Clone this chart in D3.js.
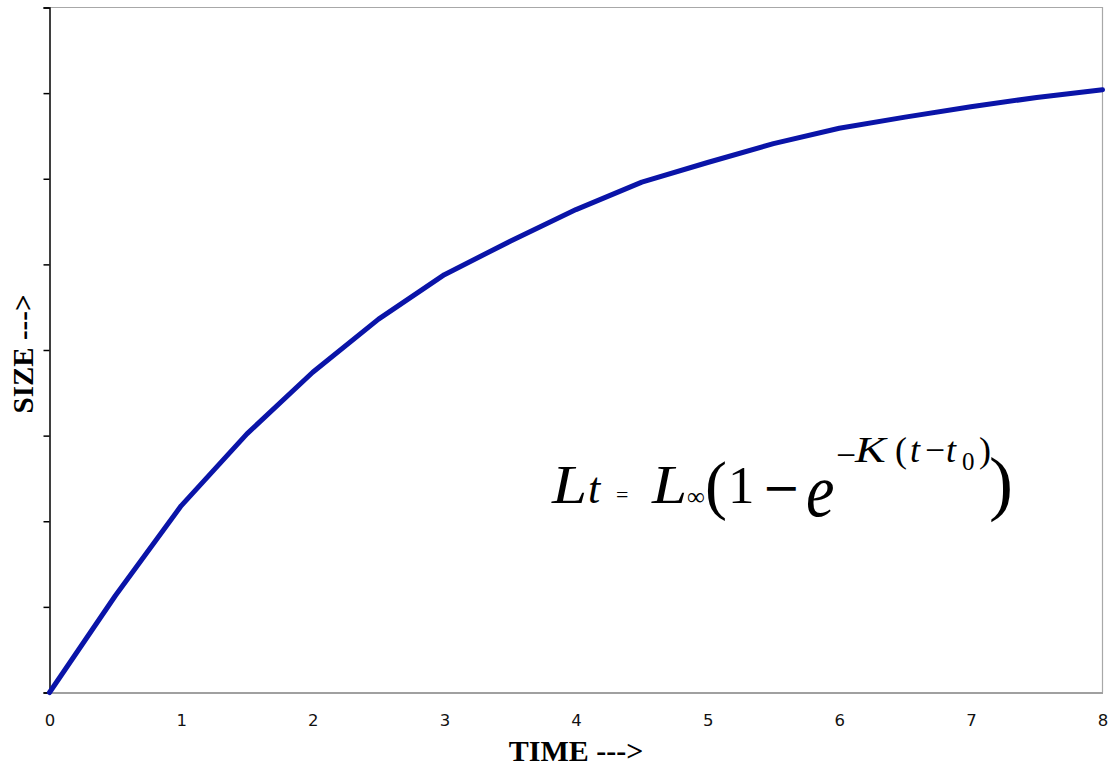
<!DOCTYPE html>
<html>
<head>
<meta charset="utf-8">
<script src="https://cdn.jsdelivr.net/npm/d3@7"></script>
<style>
  html, body { margin: 0; padding: 0; background: #fff; }
  svg { display: block; }
</style>
</head>
<body>
<svg id="chart" width="1116" height="769"></svg>
<script>
// ---- data ----
const times = [0, 0.5, 1, 1.5, 2, 2.5, 3, 3.5, 4, 4.5, 5, 5.5, 6, 6.5, 7, 7.5, 8];
const sizes = [0, 1.13, 2.18, 3.02, 3.74, 4.36, 4.88, 5.27, 5.64, 5.96, 6.19, 6.41, 6.59, 6.72, 6.84, 6.95, 7.04];
const xTickLabels = [0, 1, 2, 3, 4, 5, 6, 7, 8];
const yTickValues = [0, 1, 2, 3, 4, 5, 6, 7, 8];
const xTitle = "TIME --->";
const yTitle = "SIZE --->";

(function () {
// ---- layout ----
const svg = d3.select("#chart");
const pLeft = 49.5, pRight = 1102.5, pTop = 7.5, pBottom = 692.5;

const x = d3.scaleLinear().domain([0, 8]).range([pLeft, pRight]);
const y = d3.scaleLinear().domain([0, 8]).range([pBottom, pTop]);

// frame (top and right grey)
svg.append("path")
  .attr("d", `M${pLeft},${pTop}H${pRight}V${pBottom}`)
  .attr("fill", "none").attr("stroke", "#a8a8a8").attr("stroke-width", 1.2);

// x axis (grey line, labels only)
const xAxis = d3.axisBottom(x).tickValues(xTickLabels).tickSize(0).tickPadding(22)
  .tickFormat(d3.format("d"));
const gx = svg.append("g").attr("transform", `translate(0,${pBottom})`).call(xAxis);
gx.attr("font-size", null).attr("font-family", null);
gx.select(".domain").attr("stroke", "#a0a0a0").attr("stroke-width", 2.2);
gx.selectAll("text").attr("fill", "#111")
  .attr("font-size", 16.5).attr("font-family", "DejaVu Sans, Verdana, sans-serif");

// y axis (black with ticks, no labels)
const yAxis = d3.axisLeft(y).tickValues(yTickValues).tickSize(6).tickFormat("");
const gy = svg.append("g").attr("transform", `translate(${pLeft},0)`).call(yAxis);
gy.select(".domain").attr("stroke", "#000").attr("stroke-width", 1.5);
gy.selectAll(".tick line").attr("stroke", "#000").attr("stroke-width", 1.5);

// curve
const line = d3.line().x((d, i) => x(times[i])).y(d => y(d));
svg.append("path").datum(sizes)
  .attr("d", line)
  .attr("fill", "none")
  .attr("stroke", "#0a14a8")
  .attr("stroke-width", 5)
  .attr("stroke-linejoin", "round")
  .attr("stroke-linecap", "round");

// axis titles
svg.append("text")
  .attr("x", 576).attr("y", 761)
  .attr("text-anchor", "middle")
  .attr("font-family", "Liberation Serif, Times New Roman, serif")
  .attr("font-weight", "bold").attr("font-size", 30)
  .attr("fill", "#000")
  .text(xTitle);

svg.append("text")
  .attr("transform", "translate(33,354) rotate(-90)")
  .attr("text-anchor", "middle")
  .attr("font-family", "Liberation Serif, Times New Roman, serif")
  .attr("font-weight", "bold").attr("font-size", 29)
  .attr("fill", "#000")
  .text(yTitle);

// formula
const f = svg.append("g").attr("font-family", "Liberation Serif, Times New Roman, serif").attr("fill", "#000");
function t(xp, yp, s, size, italic, sx, sy, len, fam) {
  const el = f.append("text")
    .attr("transform", `translate(${xp},${yp}) scale(${sx || 1},${sy || 1})`)
    .attr("font-size", size)
    .attr("font-style", italic ? "italic" : "normal").text(s);
  if (len) el.attr("textLength", len).attr("lengthAdjust", "spacingAndGlyphs");
  if (fam) el.attr("font-family", fam);
}
t(552, 503, "L", 55, true, 1.15, 1);
t(588, 503, "t", 44, true);
t(616, 502, "=", 22, false);
t(652, 503, "L", 55, true, 1.15, 1);
t(687, 505, "∞", 25, false);
t(705, 507, "(", 66, false);
t(728, 503, "1", 53, false);
t(762, 503, "−", 46, false, 1, 1, 0, "DejaVu Sans");
t(806, 516, "e", 64, true, 1, 1.2);
t(836, 467, "−", 36, false, 1, 1, 20);
t(855, 462, "K", 36, true, 1.28, 1);
t(895, 462, "(", 36, false);
t(910, 462, "t", 36, true);
t(925, 462, "−", 36, false, 1, 1, 20);
t(946, 462, "t", 36, true);
t(962, 470, "0", 25, false);
t(979, 462, ")", 36, false);
t(989, 507, ")", 72, false);
})();
</script>
</body>
</html>
